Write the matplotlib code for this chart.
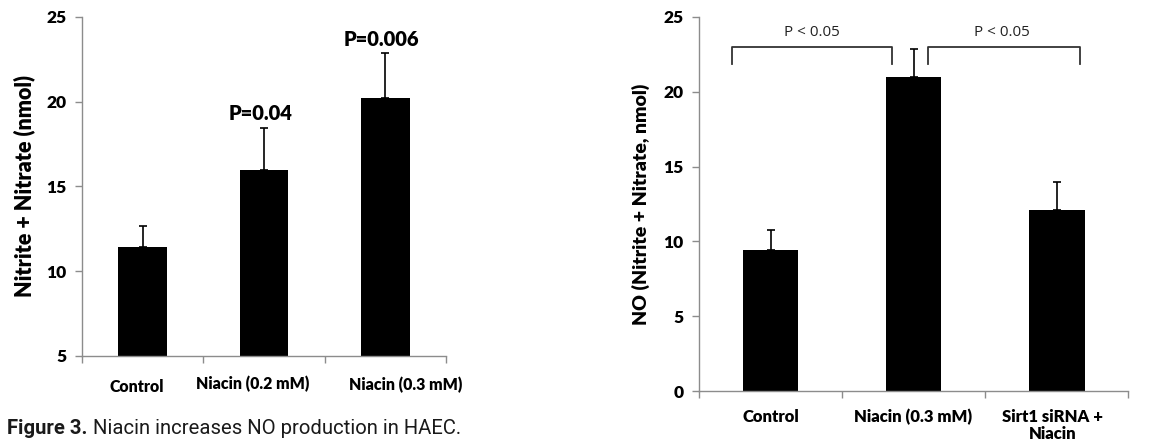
import matplotlib.pyplot as plt
import numpy as np

# left panel
left_labels = ["Control", "Niacin (0.2 mM)", "Niacin (0.3 mM)"]
left_means = [11.45, 16.0, 20.2]
left_err = [1.22, 2.45, 2.65]
left_pvals = ["", "P=0.04", "P=0.006"]

# right panel
right_labels = ["Control", "Niacin (0.3 mM)", "Sirt1 siRNA +\nNiacin"]
right_means = [9.4, 21.0, 12.07]
right_err = [1.38, 1.83, 1.93]
bracket_text = "P < 0.05"

font = ["Lato", "DejaVu Sans"]
plt.rcParams['font.family'] = font
spine_c = "#8c8c8c"

fig = plt.figure(figsize=(11.5, 4.46), dpi=100)
ax1 = fig.add_axes([0.0713, 0.2018, 0.3165, 0.7601])
ax2 = fig.add_axes([0.6078, 0.1233, 0.3732, 0.8386])


def style(ax, ylo, yhi):
    for s in ["top", "right"]:
        ax.spines[s].set_visible(False)
    for s in ["left", "bottom"]:
        ax.spines[s].set_color(spine_c)
        ax.spines[s].set_linewidth(1.0)
    ax.set_ylim(ylo, yhi)
    ax.set_yticks(np.arange(ylo, yhi + 1, 5))
    ax.set_xlim(-0.5, 2.5)
    ax.set_xticks([-0.5, 0.5, 1.5, 2.5])
    ax.set_xticklabels([])
    ax.tick_params(axis="both", color=spine_c, length=5, width=1.0)
    ax.tick_params(axis="y", labelsize=12.5, pad=6)
    for t in ax.get_yticklabels():
        t.set_fontweight("heavy")


x = np.arange(3)

# left chart
ax1.bar(x, left_means, width=0.4, color="black")
ax1.errorbar(x, left_means, yerr=[np.zeros(3), left_err], fmt="none",
             ecolor="black", elinewidth=1.2, capsize=3, capthick=1.2)
style(ax1, 5, 25)
for i, p in enumerate(left_pvals):
    if p:
        ax1.text(i - 0.03, left_means[i] + left_err[i] + 0.85, p, ha="center",
                 va="center", fontsize=14.5, fontweight="heavy")
lab_dx = [-0.05, -0.09, 0.17]
lab_y = [3.2, 3.35, 3.3]
for i, lab in enumerate(left_labels):
    ax1.text(i + lab_dx[i], lab_y[i], lab, ha="center", va="center",
             fontsize=11.4, fontweight="heavy", clip_on=False)
ax1.set_ylabel("Nitrite + Nitrate (nmol)", fontsize=15.5, fontweight="heavy",
               labelpad=8)

# right chart
ax2.bar(x, right_means, width=0.39, color="black")
ax2.errorbar(x, right_means, yerr=[np.zeros(3), right_err], fmt="none",
             ecolor="black", elinewidth=1.2, capsize=3, capthick=1.2)
style(ax2, 0, 25)
ax2.set_ylabel("NO (Nitrite + Nitrate, nmol)", fontsize=14,
               fontweight="heavy", labelpad=10)

r_dx = [0, 0, -0.03]
for i, lab in enumerate(right_labels):
    ax2.text(i + r_dx[i], -1.2, lab, ha="center", va="top",
             fontsize=12, fontweight="heavy", linespacing=1.1, clip_on=False)

# brackets
btop, bbot = 22.98, 21.87
for (xa, xb, xt) in [(-0.27, 0.85, 0.29), (1.10, 2.16, 1.62)]:
    ax2.plot([xa, xa, xb, xb], [bbot, btop, btop, bbot], color="#333333",
             lw=1.3, clip_on=False)
    ax2.text(xt, 23.95, bracket_text, ha="center", va="center", fontsize=11,
             color="#222222", family=["Open Sans", "DejaVu Sans"])

# caption
cap_font = ["Roboto", "DejaVu Sans"]
cap1 = fig.text(0.006, 0.027, "Figure 3.", fontsize=14.6, fontweight="bold",
                color="#1a1a1a", va="baseline", family=cap_font)
fig.canvas.draw()
bb = cap1.get_window_extent()
fig.text((bb.x1 + 6) / fig.bbox.width, 0.027,
         "Niacin increases NO production in HAEC.", fontsize=14.6,
         color="#1a1a1a", va="baseline", family=cap_font)

fig.savefig("out.png", dpi=100)
